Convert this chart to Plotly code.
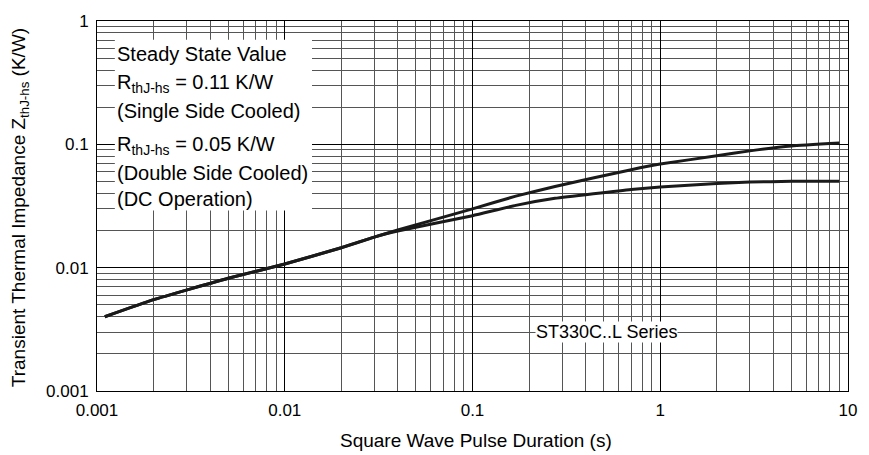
import plotly.graph_objects as go
import math

# Data
pulse_duration_s = [0.0011, 0.002, 0.005, 0.01, 0.02, 0.03, 0.04, 0.1, 0.17, 0.275, 0.7, 1, 2, 3, 5, 9]
z_single_side = [0.004, 0.0055, 0.0082, 0.0107, 0.0145, 0.0177, 0.0202, 0.030, 0.038, 0.0455, 0.0623, 0.0692, 0.0807, 0.0885, 0.097, 0.1025]
z_double_side = [0.004, 0.0055, 0.0082, 0.0107, 0.0145, 0.0177, 0.0198, 0.0264, 0.032, 0.0365, 0.0431, 0.045, 0.0481, 0.0495, 0.0501, 0.0503]

x_tickvals = [0.001, 0.01, 0.1, 1, 10]
x_ticktext = ["0.001", "0.01", "0.1", "1", "10"]
y_tickvals = [0.001, 0.01, 0.1, 1]
y_ticktext = ["0.001", "0.01", "0.1", "1"]

box_lines = [
    "Steady State Value",
    "R<sub>thJ-hs</sub> = 0.11 K/W",
    "(Single Side Cooled)",
    "R<sub>thJ-hs</sub> = 0.05 K/W",
    "(Double Side Cooled)",
    "(DC Operation)",
]
series_label = "ST330C..L Series"
series_label_pos = (0.52, 0.003)

FONT = "Liberation Sans, Arial, sans-serif"

fig = go.Figure()
for ys, name in [(z_single_side, "Single Side Cooled"), (z_double_side, "Double Side Cooled")]:
    fig.add_trace(go.Scatter(x=pulse_duration_s, y=ys, mode="lines", name=name,
                             line=dict(color="#1a1a1a", width=3, shape="spline", smoothing=0.4),
                             showlegend=False))

W, H = 869, 455
ml, mr, mt, mb = 97, 14, 16, 64
pw, ph = W - ml - mr, H - mt - mb

def px_x(p):
    return (p - ml) / pw

def px_y(p):
    return (H - mb - p) / ph

axis_common = dict(
    type="log", showline=True, linecolor="black", linewidth=1, mirror=True,
    showgrid=True, gridcolor="black", gridwidth=1, zeroline=False,
    ticks="outside", ticklen=4, tickcolor="rgba(0,0,0,0)",
    tickfont=dict(family=FONT, size=17, color="black"),
    minor=dict(dtick="D1", showgrid=True, gridcolor="#555555", gridwidth=1, ticks=""),
)

fig.update_layout(
    width=W, height=H,
    margin=dict(l=ml, r=mr, t=mt, b=mb),
    paper_bgcolor="white", plot_bgcolor="white",
    xaxis=dict(range=[-3, 1], tickmode="array", tickvals=x_tickvals, ticktext=x_ticktext, **axis_common),
    yaxis=dict(range=[-3, 0], tickmode="array", tickvals=y_tickvals, ticktext=y_ticktext, **axis_common),
)

# white box behind steady-state text
fig.add_shape(type="rect", xref="paper", yref="paper",
              x0=px_x(115), x1=px_x(314), y0=px_y(208), y1=px_y(35),
              fillcolor="white", line=dict(width=0), layer="above")

line_centers = [49, 79, 107, 142, 170, 196]
for txt, cy in zip(box_lines, line_centers):
    fig.add_annotation(xref="paper", yref="paper", x=px_x(115), y=px_y(cy),
                       xanchor="left", yanchor="middle", text=txt, showarrow=False,
                       font=dict(family=FONT, size=20, color="black"))

fig.add_annotation(x=math.log10(series_label_pos[0]), y=math.log10(series_label_pos[1]),
                   text=series_label, showarrow=False, bgcolor="white", borderpad=0,
                   font=dict(family=FONT, size=18, color="black"))

# axis titles
fig.add_annotation(xref="paper", yref="paper", x=px_x(480), y=px_y(441),
                   xanchor="center", yanchor="middle", showarrow=False,
                   text="Square Wave Pulse Duration (s)",
                   font=dict(family=FONT, size=19, color="black"))
fig.add_annotation(xref="paper", yref="paper", x=px_x(20), y=px_y(205),
                   xanchor="center", yanchor="middle", showarrow=False, textangle=-90,
                   text="Transient Thermal Impedance Z<sub>thJ-hs</sub> (K/W)",
                   font=dict(family=FONT, size=19, color="black"))

fig.write_html("out.html")
